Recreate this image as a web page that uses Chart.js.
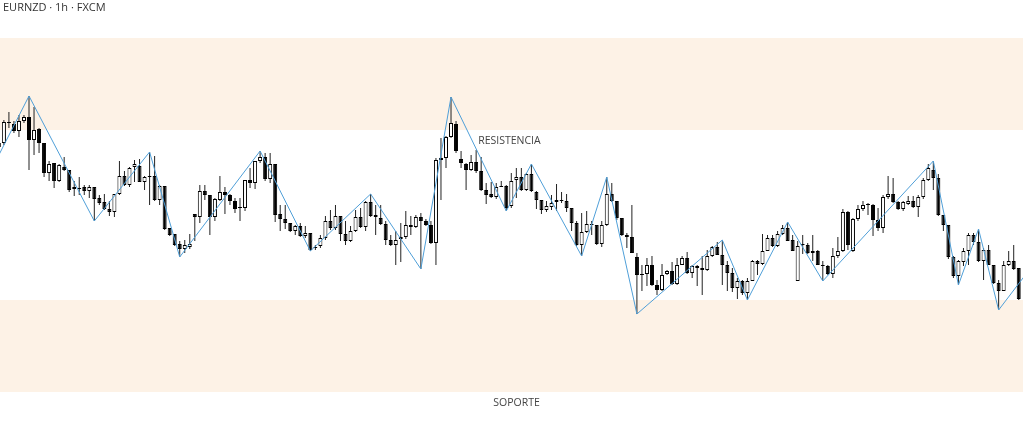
<!DOCTYPE html>
<html>
<head>
<meta charset="utf-8">
<title>EURNZD 1h</title>
<script src="https://cdn.jsdelivr.net/npm/chart.js@4.4.0/dist/chart.umd.min.js"></script>
<style>
  html, body { margin: 0; padding: 0; background: #fff; }
  #wrap { position: relative; width: 1023px; height: 432px; }
</style>
</head>
<body>
<div id="wrap"><canvas id="chart"></canvas></div>
<script>
// velas horarias EURNZD
const opens = [
  1.6353,1.6357,1.6378,1.6376,1.6369,1.6379,1.6383,1.6360,1.6371,1.6357,
  1.6327,1.6337,1.6319,1.6333,1.6330,1.6313,1.6312,1.6313,1.6309,1.6313,
  1.6302,1.6298,1.6291,1.6288,1.6306,1.6324,1.6315,1.6333,1.6334,1.6318,
  1.6324,1.6324,1.6300,1.6314,1.6272,1.6266,1.6256,1.6251,1.6253,1.6286,
  1.6283,1.6309,1.6305,1.6283,1.6300,1.6308,1.6305,1.6299,1.6293,1.6292,
  1.6320,1.6317,1.6339,1.6343,1.6321,1.6336,1.6286,1.6281,1.6277,1.6269,
  1.6274,1.6264,1.6267,1.6252,1.6254,1.6262,1.6279,1.6272,1.6284,1.6266,
  1.6259,1.6269,1.6283,1.6273,1.6298,1.6285,1.6282,1.6276,1.6260,1.6255,
  1.6263,1.6263,1.6275,1.6273,1.6283,1.6279,1.6275,1.6257,1.6340,1.6342,
  1.6363,1.6376,1.6341,1.6336,1.6330,1.6338,1.6329,1.6310,1.6306,1.6303,
  1.6314,1.6314,1.6294,1.6320,1.6323,1.6310,1.6326,1.6308,1.6300,1.6290,
  1.6293,1.6298,1.6299,1.6299,1.6292,1.6277,1.6255,1.6268,1.6276,1.6275,
  1.6256,1.6275,1.6306,1.6299,1.6282,1.6265,1.6263,1.6243,1.6225,1.6226,
  1.6235,1.6215,1.6210,1.6226,1.6229,1.6216,1.6235,1.6242,1.6227,1.6234,
  1.6232,1.6230,1.6244,1.6253,1.6245,1.6235,1.6227,1.6212,1.6219,1.6207,
  1.6219,1.6239,1.6236,1.6249,1.6262,1.6254,1.6266,1.6272,1.6260,1.6219,
  1.6255,1.6255,1.6247,1.6249,1.6235,1.6234,1.6226,1.6244,1.6249,1.6288,
  1.6249,1.6281,1.6291,1.6295,1.6295,1.6280,1.6272,1.6303,1.6306,1.6298,
  1.6291,1.6296,1.6299,1.6293,1.6303,1.6320,1.6330,1.6322,1.6285,1.6275,
  1.6243,1.6224,1.6238,1.6249,1.6265,1.6258,1.6239,1.6250,1.6235,1.6217,
  1.6209,1.6235,1.6239,1.6232
];
const highs = [
  1.6360,1.6380,1.6388,1.6379,1.6385,1.6385,1.6404,1.6393,1.6372,1.6357,
  1.6339,1.6337,1.6336,1.6343,1.6330,1.6319,1.6323,1.6315,1.6315,1.6313,
  1.6305,1.6306,1.6299,1.6306,1.6339,1.6329,1.6333,1.6340,1.6341,1.6324,
  1.6348,1.6344,1.6315,1.6314,1.6272,1.6266,1.6259,1.6260,1.6266,1.6286,
  1.6315,1.6315,1.6305,1.6302,1.6324,1.6313,1.6306,1.6302,1.6302,1.6320,
  1.6332,1.6339,1.6349,1.6347,1.6347,1.6336,1.6295,1.6295,1.6277,1.6275,
  1.6277,1.6274,1.6267,1.6255,1.6265,1.6284,1.6290,1.6295,1.6284,1.6279,
  1.6274,1.6290,1.6292,1.6299,1.6306,1.6295,1.6295,1.6279,1.6265,1.6269,
  1.6277,1.6289,1.6284,1.6285,1.6287,1.6281,1.6279,1.6342,1.6362,1.6364,
  1.6403,1.6379,1.6349,1.6337,1.6345,1.6350,1.6343,1.6317,1.6318,1.6317,
  1.6319,1.6315,1.6327,1.6332,1.6332,1.6327,1.6336,1.6309,1.6300,1.6299,
  1.6305,1.6316,1.6308,1.6306,1.6292,1.6279,1.6287,1.6289,1.6279,1.6275,
  1.6279,1.6323,1.6317,1.6299,1.6282,1.6267,1.6295,1.6247,1.6235,1.6242,
  1.6244,1.6220,1.6236,1.6230,1.6238,1.6242,1.6244,1.6248,1.6235,1.6235,
  1.6244,1.6250,1.6254,1.6258,1.6260,1.6239,1.6232,1.6222,1.6220,1.6222,
  1.6240,1.6240,1.6266,1.6265,1.6265,1.6269,1.6275,1.6278,1.6265,1.6259,
  1.6265,1.6257,1.6265,1.6250,1.6239,1.6235,1.6252,1.6263,1.6291,1.6289,
  1.6282,1.6295,1.6299,1.6297,1.6296,1.6292,1.6305,1.6324,1.6322,1.6299,
  1.6299,1.6304,1.6304,1.6305,1.6322,1.6336,1.6339,1.6326,1.6285,1.6275,
  1.6244,1.6240,1.6252,1.6267,1.6267,1.6271,1.6252,1.6255,1.6235,1.6220,
  1.6239,1.6249,1.6255,1.6232
];
const lows = [
  1.6345,1.6355,1.6372,1.6367,1.6363,1.6377,1.6330,1.6345,1.6347,1.6323,
  1.6319,1.6312,1.6318,1.6329,1.6308,1.6304,1.6305,1.6305,1.6302,1.6279,
  1.6295,1.6290,1.6284,1.6283,1.6305,1.6314,1.6313,1.6318,1.6318,1.6310,
  1.6295,1.6299,1.6295,1.6270,1.6264,1.6254,1.6243,1.6247,1.6251,1.6259,
  1.6277,1.6300,1.6265,1.6279,1.6299,1.6286,1.6295,1.6287,1.6279,1.6289,
  1.6312,1.6311,1.6337,1.6319,1.6317,1.6278,1.6269,1.6271,1.6268,1.6265,
  1.6263,1.6262,1.6249,1.6250,1.6252,1.6260,1.6270,1.6270,1.6259,1.6255,
  1.6258,1.6268,1.6272,1.6269,1.6283,1.6265,1.6275,1.6255,1.6254,1.6235,
  1.6238,1.6261,1.6265,1.6272,1.6231,1.6274,1.6256,1.6235,1.6300,1.6332,
  1.6362,1.6347,1.6332,1.6310,1.6329,1.6327,1.6309,1.6296,1.6302,1.6301,
  1.6313,1.6289,1.6292,1.6302,1.6309,1.6309,1.6308,1.6291,1.6286,1.6288,
  1.6290,1.6289,1.6297,1.6288,1.6269,1.6254,1.6244,1.6267,1.6265,1.6255,
  1.6253,1.6274,1.6298,1.6280,1.6264,1.6252,1.6247,1.6186,1.6209,1.6214,
  1.6214,1.6205,1.6209,1.6225,1.6215,1.6215,1.6235,1.6226,1.6222,1.6214,
  1.6205,1.6229,1.6243,1.6245,1.6215,1.6209,1.6208,1.6201,1.6205,1.6200,
  1.6219,1.6225,1.6235,1.6249,1.6253,1.6253,1.6265,1.6259,1.6249,1.6219,
  1.6246,1.6246,1.6239,1.6235,1.6219,1.6225,1.6222,1.6242,1.6248,1.6250,
  1.6248,1.6279,1.6289,1.6285,1.6264,1.6269,1.6267,1.6301,1.6297,1.6290,
  1.6289,1.6295,1.6292,1.6283,1.6301,1.6319,1.6310,1.6284,1.6269,1.6241,
  1.6222,1.6215,1.6234,1.6235,1.6255,1.6238,1.6220,1.6235,1.6216,1.6190,
  1.6209,1.6234,1.6230,1.6200
];
const closes = [
  1.6357,1.6378,1.6377,1.6369,1.6379,1.6383,1.6360,1.6370,1.6357,1.6327,
  1.6336,1.6319,1.6335,1.6330,1.6310,1.6311,1.6311,1.6309,1.6313,1.6301,
  1.6297,1.6291,1.6288,1.6306,1.6324,1.6315,1.6332,1.6336,1.6318,1.6323,
  1.6323,1.6300,1.6314,1.6271,1.6265,1.6255,1.6251,1.6255,1.6256,1.6283,
  1.6309,1.6305,1.6283,1.6301,1.6308,1.6305,1.6299,1.6291,1.6292,1.6320,
  1.6317,1.6339,1.6343,1.6321,1.6336,1.6285,1.6281,1.6277,1.6269,1.6274,
  1.6264,1.6267,1.6250,1.6253,1.6262,1.6279,1.6272,1.6284,1.6266,1.6259,
  1.6269,1.6283,1.6273,1.6298,1.6284,1.6283,1.6276,1.6260,1.6255,1.6260,
  1.6261,1.6275,1.6273,1.6283,1.6279,1.6275,1.6257,1.6340,1.6342,1.6363,
  1.6377,1.6349,1.6337,1.6330,1.6338,1.6329,1.6310,1.6305,1.6303,1.6313,
  1.6313,1.6292,1.6319,1.6323,1.6310,1.6326,1.6309,1.6300,1.6290,1.6294,
  1.6297,1.6300,1.6300,1.6292,1.6277,1.6255,1.6268,1.6276,1.6275,1.6256,
  1.6275,1.6306,1.6299,1.6282,1.6265,1.6263,1.6247,1.6225,1.6226,1.6235,
  1.6215,1.6210,1.6225,1.6229,1.6216,1.6235,1.6242,1.6227,1.6234,1.6232,
  1.6230,1.6244,1.6253,1.6245,1.6235,1.6227,1.6212,1.6219,1.6207,1.6219,
  1.6239,1.6236,1.6249,1.6262,1.6254,1.6266,1.6272,1.6259,1.6249,1.6254,
  1.6256,1.6247,1.6249,1.6235,1.6234,1.6226,1.6244,1.6249,1.6288,1.6255,
  1.6281,1.6291,1.6295,1.6296,1.6280,1.6272,1.6303,1.6306,1.6298,1.6291,
  1.6298,1.6299,1.6293,1.6303,1.6320,1.6332,1.6322,1.6285,1.6275,1.6243,
  1.6224,1.6239,1.6249,1.6265,1.6258,1.6239,1.6250,1.6235,1.6217,1.6209,
  1.6235,1.6239,1.6231,1.6201
];

// zigzag: indice de vela y precio del pivote
const zigzagIdx = [0, 6, 19, 30, 36, 52, 62, 74, 84, 90, 101, 106, 116, 121, 127, 144, 149, 157, 164, 186, 191, 195, 199, 204];
const zigzagPrice = [1.6345, 1.6404, 1.6279, 1.6348, 1.6243, 1.6349, 1.6249, 1.6306, 1.6231, 1.6403, 1.6289, 1.6336,
  1.6244, 1.6323, 1.6186, 1.6260, 1.6200, 1.6278, 1.6219, 1.6339, 1.6215, 1.6271, 1.6190, 1.6223];

// zonas [abajo, arriba]
const resistZone = [1.6370, 1.6462];
const supportZone = [1.6108, 1.6200];

const title = 'EURNZD · 1h · FXCM';

const candleIdx = opens.map((_, i) => i);
const bodies = candleIdx.map(i => ({ x: i, y: [opens[i], closes[i]] }));
const wicks = candleIdx.map(i => ({ x: i, y: [lows[i], highs[i]] }));
const bodyColors = candleIdx.map(i => closes[i] >= opens[i] ? '#ffffff' : '#000000');
const zigzag = zigzagIdx.map((x, i) => ({ x: x, y: zigzagPrice[i] }));

// dibuja las zonas y los textos
const zonesPlugin = {
  id: 'zones',
  beforeDatasetsDraw(chart) {
    const { ctx, chartArea, scales: { y } } = chart;
    ctx.save();
    ctx.fillStyle = '#fdf2e6';
    [resistZone, supportZone].forEach(z => {
      const top = y.getPixelForValue(z[1]);
      const bottom = y.getPixelForValue(z[0]);
      ctx.fillRect(chartArea.left, top, chartArea.right - chartArea.left, bottom - top);
    });
    ctx.restore();
  },
  afterDatasetsDraw(chart) {
    const { ctx, chartArea, scales: { y } } = chart;
    const w = chartArea.right - chartArea.left;
    ctx.save();
    ctx.textBaseline = 'middle';
    ctx.font = '10.5px "Open Sans"';
    ctx.fillStyle = '#444';
    ctx.textAlign = 'center';
    ctx.fillText('RESISTENCIA', chartArea.left + w * 0.498, y.getPixelForValue(resistZone[0]) + 11);
    ctx.fillText('SOPORTE', chartArea.left + w * 0.505, y.getPixelForValue(supportZone[0]) + 11);
    ctx.textAlign = 'left';
    ctx.font = '11px "Open Sans"';
    ctx.fillStyle = '#333';
    ctx.fillText(title, 3, 8);
    ctx.restore();
  }
};

const chart = new Chart(document.getElementById('chart'), {
  type: 'bar',
  data: {
    datasets: [
      {
        type: 'line',
        data: zigzag,
        borderColor: '#4f9fd8',
        borderWidth: 1,
        pointRadius: 0,
        tension: 0,
        fill: false
      },
      {
        data: bodies,
        backgroundColor: bodyColors,
        borderColor: '#000000',
        borderWidth: 1,
        borderSkipped: false,
        barThickness: 4,
        minBarLength: 1,
        inflateAmount: 0,
        grouped: false
      },
      {
        data: wicks,
        backgroundColor: '#222222',
        barThickness: 1,
        inflateAmount: 0,
        grouped: false
      }
    ]
  },
  options: {
    responsive: true,
    maintainAspectRatio: false,
    animation: false,
    layout: { padding: 0 },
    plugins: {
      legend: { display: false },
      tooltip: { enabled: false }
    },
    scales: {
      x: { type: 'linear', min: 0.227, max: 203.85, offset: false, display: false },
      y: { min: 1.6068, max: 1.6500, display: false }
    }
  },
  plugins: [zonesPlugin]
});
</script>
</body>
</html>
